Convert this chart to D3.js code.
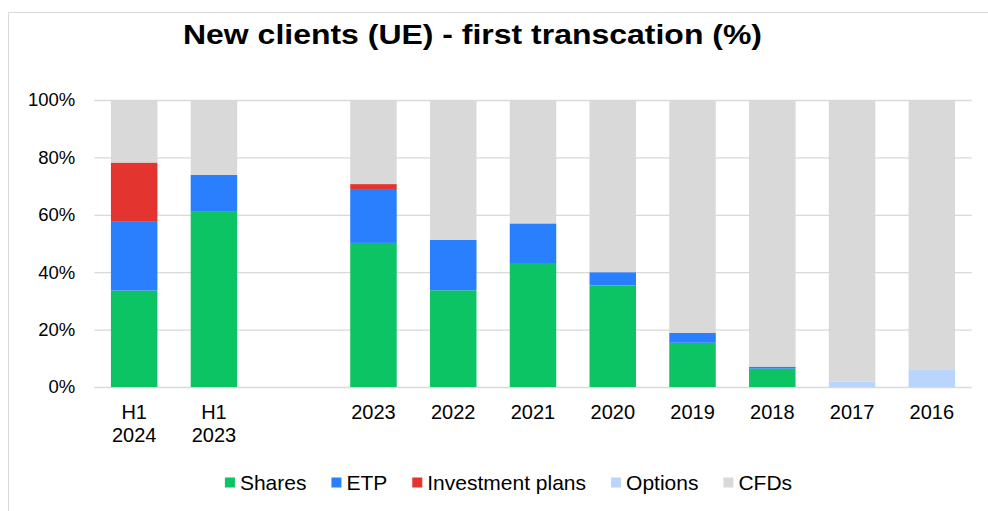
<!DOCTYPE html>
<html>
<head>
<meta charset="utf-8">
<script src="https://cdn.jsdelivr.net/npm/d3@7"></script>
<style>
  html, body { margin: 0; padding: 0; background: #ffffff; }
  svg { display: block; font-family: "Liberation Sans", Arial, sans-serif; }
</style>
</head>
<body>
<svg id="chart" width="988" height="511"></svg>
<script>
// ---- Data ----
const categories = ["H1\n2024", "H1\n2023", " ", "2023", "2022", "2021", "2020", "2019", "2018", "2017", "2016"];
const seriesNames = ["Shares", "ETP", "Investment plans", "Options", "CFDs"];
const shares  = [33.6, 61.3, null, 50.2, 33.7, 43.2, 35.4, 15.4, 6.4, 0, 0];
const etp     = [24.2, 12.6, null, 18.8, 17.6, 13.8, 4.6, 3.5, 0.7, 0, 0];
const invest  = [20.4, 0, null, 1.7, 0, 0, 0, 0, 0, 0, 0];
const options = [0, 0, null, 0, 0, 0, 0, 0, 0, 1.9, 6.2];
const cfds    = [21.8, 26.1, null, 29.3, 48.7, 43.0, 60.0, 81.1, 92.9, 98.1, 93.8];
const yTicks = [0, 20, 40, 60, 80, 100];
const titleText = "New clients (UE) - first transcation (%)";
const colors = ["#0cc463", "#2a7fff", "#e3342f", "#bad5fb", "#d9d9d9"];

// ---- Build table ----
const seriesValues = [shares, etp, invest, options, cfds];
const rows = categories.map((c, i) => {
  const r = { cat: c, empty: shares[i] === null };
  seriesNames.forEach((s, k) => { r[s] = seriesValues[k][i] || 0; });
  return r;
});

const svg = d3.select("#chart");

// frame
svg.append("path")
  .attr("d", "M8.5,520 L8.5,12.5 L1000,12.5")
  .attr("fill", "none").attr("stroke", "#d9d9d9").attr("stroke-width", 1);

// title
svg.append("text")
  .attr("x", 183).attr("y", 44)
  .attr("font-size", 28.5).attr("font-weight", "bold")
  .attr("fill", "#000")
  .attr("textLength", 579)
  .attr("lengthAdjust", "spacingAndGlyphs")
  .text(titleText);

const x = d3.scaleBand()
  .domain(categories)
  .range([94.3, 971.7])
  .paddingInner(0.417)
  .paddingOuter(0.2085);

const y = d3.scaleLinear().domain([0, 100]).range([387, 100]);

// gridlines
const grid = svg.append("g")
  .attr("transform", "translate(94.3,0)")
  .call(d3.axisLeft(y).tickValues(yTicks).tickSize(-(971.7 - 94.3)).tickFormat(""));
grid.select(".domain").remove();
grid.selectAll("line").attr("stroke", "#d9d9d9").attr("stroke-width", 1.3);

// y axis labels
const yAxis = svg.append("g")
  .attr("transform", "translate(94.3,0)")
  .call(d3.axisLeft(y).tickValues(yTicks).tickSize(0).tickPadding(19).tickFormat(d => d + "%"));
yAxis.select(".domain").remove();
yAxis.selectAll("text").attr("font-size", 18.5).attr("fill", "#000")
  .attr("font-family", "Liberation Sans, Arial, sans-serif");

// stacked bars
const stack = d3.stack().keys(seriesNames);
const stacked = stack(rows.filter(r => !r.empty));
svg.append("g").selectAll("g")
  .data(stacked)
  .join("g")
  .attr("fill", (d, i) => colors[i])
  .selectAll("rect")
  .data(d => d.filter(p => p[1] - p[0] > 0))
  .join("rect")
  .attr("x", d => x(d.data.cat))
  .attr("width", x.bandwidth())
  .attr("y", d => y(d[1]))
  .attr("height", d => y(d[0]) - y(d[1]));

// x axis labels
const xAxis = svg.append("g")
  .attr("transform", "translate(0,387)")
  .call(d3.axisBottom(x).tickSize(0).tickPadding(0).tickFormat(""));
xAxis.select(".domain").remove();
xAxis.selectAll(".tick").each(function(d) {
  const lines = d.trim() === "" ? [] : d.split("\n");
  const t = d3.select(this).append("text")
    .attr("fill", "#000")
    .attr("font-size", 20)
    .attr("text-anchor", "middle")
    .attr("font-family", "Liberation Sans, Arial, sans-serif");
  lines.forEach((ln, i) => {
    t.append("tspan").attr("x", 0).attr("y", 31.5 + i * 23.3).text(ln);
  });
});

// legend
const legend = svg.append("g").attr("font-size", 21);
const items = legend.selectAll("g").data(seriesNames).join("g");
items.append("rect").attr("width", 10).attr("height", 10).attr("y", -5)
  .attr("fill", (d, i) => colors[i]);
items.append("text").attr("x", 15).attr("y", 7.5).attr("fill", "#000").text(d => d);
let cx = 0;
const widths = [];
items.each(function() {
  const w = 15 + d3.select(this).select("text").node().getComputedTextLength();
  widths.push(w);
});
const gap = 25;
const total = d3.sum(widths) + gap * (widths.length - 1);
cx = 508.5 - total / 2;
items.each(function(d, i) {
  d3.select(this).attr("transform", `translate(${cx},482.5)`);
  cx += widths[i] + gap;
});
</script>
</body>
</html>
